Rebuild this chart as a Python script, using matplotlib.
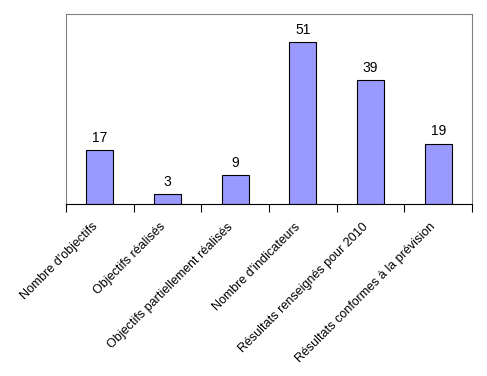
import matplotlib.pyplot as plt
import matplotlib.transforms as mtransforms
import numpy as np

categories = ["Nombre d'objectifs", "Objectifs réalisés", "Objectifs partiellement réalisés",
              "Nombre d'indicateurs", "Résultats renseignés pour 2010",
              "Résultats conformes à la prévision"]
values = [17, 3, 9, 51, 39, 19]

plt.rcParams['font.family'] = ['Liberation Sans', 'DejaVu Sans']

fig = plt.figure(figsize=(4.87, 3.76), dpi=100)
ax = fig.add_axes([66 / 487, 1 - 204 / 376, (472 - 66) / 487, (204 - 14) / 376])

x = np.arange(len(values))
bars = ax.bar(x, values, width=0.4, color='#9999ff', edgecolor='black', linewidth=0.8)
for xi, v in zip(x, values):
    ax.annotate(str(v), (xi, v), textcoords='offset points', xytext=(0, 4),
                ha='center', va='bottom', fontsize=10)

ax.set_xlim(-0.5, len(values) - 0.5)
ax.set_ylim(0, 60)
ax.set_yticks([])

# ticks between categories, labels at centres
ax.set_xticks(np.arange(-0.5, len(values), 1.0))
ax.set_xticklabels([])
ax.set_xticks(x, minor=True)
ax.set_xticklabels(categories, minor=True, rotation=45, ha='right',
                   rotation_mode='anchor', fontsize=9)
ax.tick_params(axis='x', which='major', direction='out', length=6, width=0.8, color='black')
ax.tick_params(axis='x', which='minor', length=0, pad=12)

# nudge labels a bit to the left like the original
shift = mtransforms.ScaledTranslation(-6 / 72, 0, fig.dpi_scale_trans)
for lbl in ax.get_xticklabels(minor=True):
    lbl.set_transform(lbl.get_transform() + shift)

for side in ['top', 'right', 'left']:
    ax.spines[side].set_color('#808080')
    ax.spines[side].set_linewidth(0.8)
ax.spines['bottom'].set_color('black')
ax.spines['bottom'].set_linewidth(0.8)

fig.savefig('out.png', dpi=100)
